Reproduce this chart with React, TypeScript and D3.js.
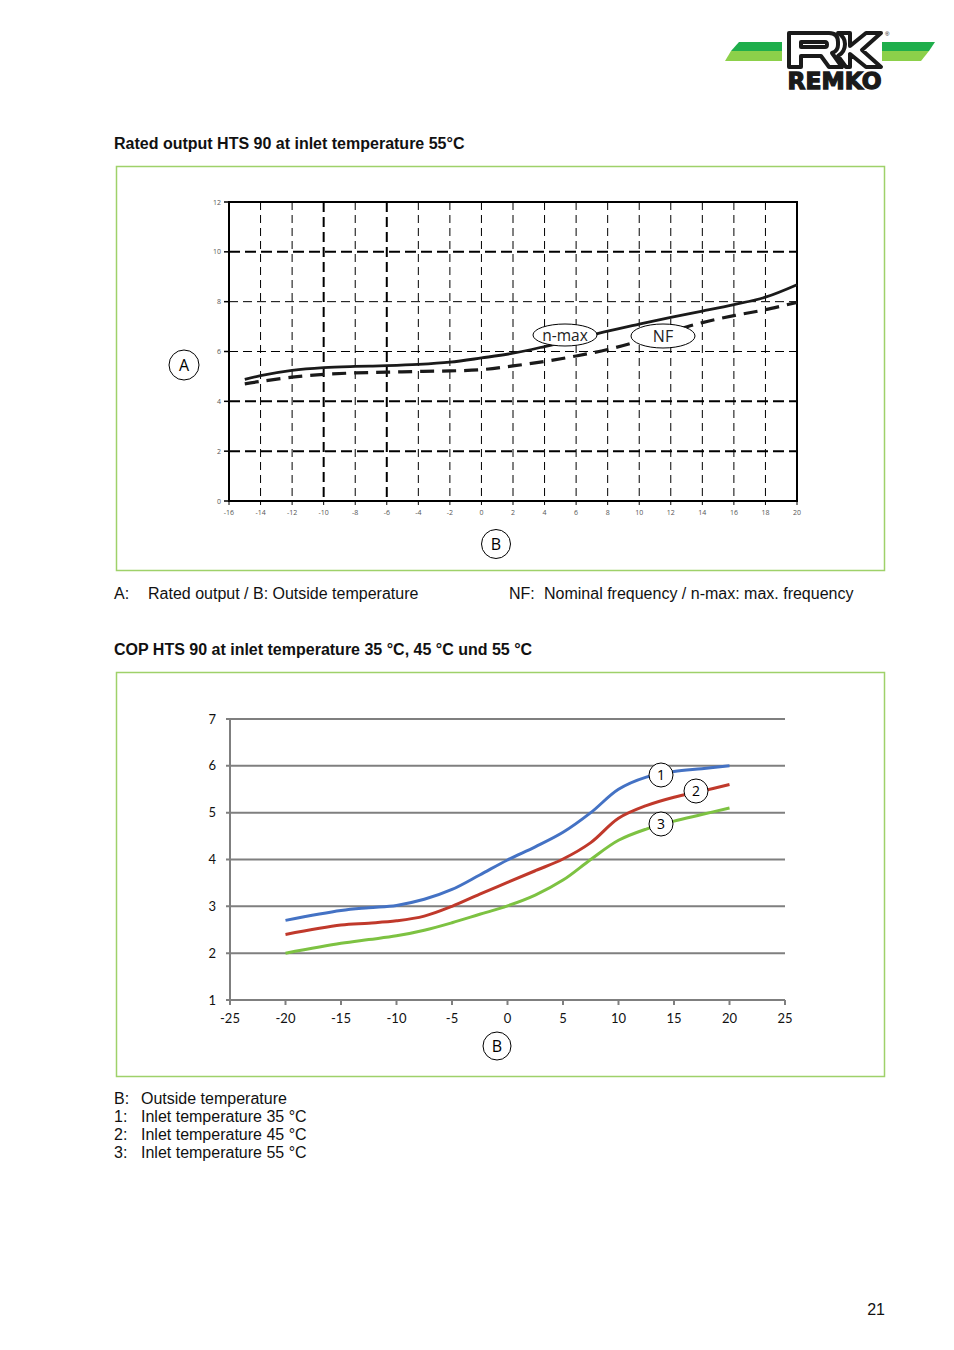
import React from "react";
import * as d3 from "d3";

// ---- Chart 1 data: Rated output HTS 90 at inlet 55°C ----
const c1X = [-15, -14, -12, -10, -8, -6, -4, -2, 0, 2, 4, 6, 8, 10, 12, 14, 16, 18, 20];
const c1Nmax = [4.88, 5.03, 5.24, 5.35, 5.4, 5.43, 5.48, 5.57, 5.74, 5.93, 6.2, 6.5, 6.82, 7.1, 7.37, 7.62, 7.88, 8.18, 8.68];
const c1NF = [4.7, 4.8, 4.97, 5.08, 5.14, 5.17, 5.2, 5.22, 5.27, 5.42, 5.6, 5.82, 6.08, 6.42, 6.8, 7.16, 7.44, 7.68, 7.97];
const c1XTicks = [-16, -14, -12, -10, -8, -6, -4, -2, 0, 2, 4, 6, 8, 10, 12, 14, 16, 18, 20];
const c1YTicks = [0, 2, 4, 6, 8, 10, 12];

// ---- Chart 2 data: COP HTS 90 ----
const c2X = [-20, -15, -12.5, -10, -7.5, -5, -2.5, 0, 2.5, 5, 7.5, 10, 12.5, 15, 17.5, 20];
const c2T35 = [2.7, 2.91, 2.97, 3.02, 3.15, 3.36, 3.67, 3.99, 4.27, 4.58, 5.0, 5.5, 5.76, 5.88, 5.94, 6.0];
const c2T45 = [2.4, 2.6, 2.64, 2.69, 2.79, 3.0, 3.26, 3.51, 3.76, 4.01, 4.36, 4.88, 5.15, 5.33, 5.46, 5.6];
const c2T55 = [2.0, 2.21, 2.29, 2.37, 2.49, 2.65, 2.83, 3.01, 3.24, 3.56, 4.0, 4.41, 4.65, 4.82, 4.96, 5.1];
const c2XTicks = [-25, -20, -15, -10, -5, 0, 5, 10, 15, 20, 25];
const c2YTicks = [1, 2, 3, 4, 5, 6, 7];

const SANS = "'Liberation Sans', Arial, sans-serif";
const GREEN = "#9fd16a";

function Chart1() {
  const x = d3.scaleLinear().domain([-16, 20]).range([229, 797]);
  const y = d3.scaleLinear().domain([0, 12]).range([501, 202]);
  const line = d3
    .line<number>()
    .x((_, i) => x(c1X[i]))
    .y((d) => y(d))
    .curve(d3.curveCatmullRom.alpha(0.5));
  const thickV = [-10, -6];
  const thickH = [2, 4, 10];
  return (
    <g>
      {c1XTicks.slice(1, -1).map((t) => (
        <line
          key={"v" + t}
          x1={x(t)}
          x2={x(t)}
          y1={y(12)}
          y2={y(0)}
          stroke="#000"
          strokeWidth={thickV.includes(t) ? 2 : 1}
          strokeDasharray={thickV.includes(t) ? "10 5" : "8 5"}
        />
      ))}
      {c1YTicks.slice(1, -1).map((t) => (
        <line
          key={"h" + t}
          x1={x(-16)}
          x2={x(20)}
          y1={y(t)}
          y2={y(t)}
          stroke="#000"
          strokeWidth={thickH.includes(t) ? 2 : 1}
          strokeDasharray={thickH.includes(t) ? "11 5" : "9 5"}
        />
      ))}
      <rect x={x(-16)} y={y(12)} width={x(20) - x(-16)} height={y(0) - y(12)} fill="none" stroke="#000" strokeWidth={2} />
      {c1YTicks.map((t) => (
        <g key={"yt" + t}>
          <line x1={x(-16) - 5} x2={x(-16)} y1={y(t)} y2={y(t)} stroke="#000" strokeWidth={1.5} />
          <text x={x(-16) - 8} y={y(t) + 2.5} fontSize={7} fill="#555" textAnchor="end" fontFamily="'Open Sans', sans-serif">
            {t}
          </text>
        </g>
      ))}
      {c1XTicks.map((t) => (
        <g key={"xt" + t}>
          <line x1={x(t)} x2={x(t)} y1={y(0)} y2={y(0) + 4} stroke="#000" strokeWidth={1} />
          <text x={x(t)} y={y(0) + 14} fontSize={7} fill="#555" textAnchor="middle" fontFamily="'Open Sans', sans-serif">
            {t}
          </text>
        </g>
      ))}
      <path d={line(c1NF) || ""} fill="none" stroke="#1a1a1a" strokeWidth={3.2} strokeDasharray="14 8" />
      <path d={line(c1Nmax) || ""} fill="none" stroke="#1a1a1a" strokeWidth={2.8} />
      <ellipse cx={565} cy={335} rx={32} ry={11} fill="#fff" stroke="#000" strokeWidth={1} />
      <text x={565} y={340.5} fontSize={15.5} textAnchor="middle" fontFamily="'Open Sans', sans-serif" fill="#222">
        n-max
      </text>
      <ellipse cx={663} cy={336} rx={32} ry={12} fill="#fff" stroke="#000" strokeWidth={1} />
      <text x={663} y={342} fontSize={16} textAnchor="middle" fontFamily="'Open Sans', sans-serif" fill="#222">
        NF
      </text>
      <circle cx={184} cy={365} r={15} fill="#fff" stroke="#000" strokeWidth={1} />
      <text x={184} y={371} fontSize={16} textAnchor="middle" fontFamily="'Open Sans', sans-serif">
        A
      </text>
      <circle cx={496} cy={544} r={14.5} fill="#fff" stroke="#000" strokeWidth={1} />
      <text x={496} y={550} fontSize={16} textAnchor="middle" fontFamily="'Open Sans', sans-serif">
        B
      </text>
    </g>
  );
}

function Chart2() {
  const x = d3.scaleLinear().domain([-25, 25]).range([230, 785]);
  const y = d3.scaleLinear().domain([1, 7]).range([1000, 719]);
  const line = d3
    .line<number>()
    .x((_, i) => x(c2X[i]))
    .y((d) => y(d))
    .curve(d3.curveCatmullRom.alpha(0.5));
  const series = [
    { d: c2T35, c: "#4472c4", label: "1", lx: 661, ly: 775 },
    { d: c2T45, c: "#c0392b", label: "2", lx: 696, ly: 791 },
    { d: c2T55, c: "#7dc242", label: "3", lx: 661, ly: 824 },
  ];
  const grey = "#7f7f7f";
  return (
    <g fontFamily="Lato, 'Open Sans', sans-serif">
      {c2YTicks.slice(1).map((t) => (
        <line key={"g" + t} x1={x(-25) - 4} x2={x(25)} y1={y(t)} y2={y(t)} stroke={grey} strokeWidth={2} />
      ))}
      <line x1={x(-25)} x2={x(-25)} y1={y(7)} y2={y(1)} stroke={grey} strokeWidth={2} />
      <line x1={x(-25) - 4} x2={x(25)} y1={y(1)} y2={y(1)} stroke={grey} strokeWidth={2} />
      {c2XTicks.map((t) => (
        <g key={"xt" + t}>
          <line x1={x(t)} x2={x(t)} y1={y(1)} y2={y(1) + 5} stroke={grey} strokeWidth={2} />
          <text x={x(t)} y={y(1) + 23} fontSize={13} textAnchor="middle" fill="#111">
            {t}
          </text>
        </g>
      ))}
      {c2YTicks.map((t) => (
        <text key={"yt" + t} x={x(-25) - 14} y={y(t) + 4.5} fontSize={13} textAnchor="end" fill="#111">
          {t}
        </text>
      ))}
      {series.map((s) => (
        <path key={s.label} d={line(s.d) || ""} fill="none" stroke={s.c} strokeWidth={3} />
      ))}
      {series.map((s) => (
        <g key={"l" + s.label}>
          <circle cx={s.lx} cy={s.ly} r={12} fill="#fff" stroke="#000" strokeWidth={1} />
          <text x={s.lx} y={s.ly + 5} fontSize={14} textAnchor="middle" fontFamily="'Open Sans', sans-serif">
            {s.label}
          </text>
        </g>
      ))}
      <circle cx={497} cy={1046} r={14} fill="#fff" stroke="#000" strokeWidth={1} />
      <text x={497} y={1052} fontSize={16} textAnchor="middle" fontFamily="'Open Sans', sans-serif">
        B
      </text>
    </g>
  );
}

function Logo() {
  return (
    <g>
      <polygon points="739,42 782,42 782,51 731,51" fill="#1fae4b" />
      <polygon points="731,51 782,51 782,61 725,61" fill="#8cd04a" />
      <polygon points="882,42 935,42 929,51 882,51" fill="#1fae4b" />
      <polygon points="882,51 929,51 921,61 882,61" fill="#8cd04a" />
      <path
        d="M789,33 L829,33 Q838,33 838,42 L838,45 Q838,51 832,53 L842,67 L829,67 L821,56 L801,56 L801,67 L789,67 Z M801,42 L801,47 L825,47 Q827,47 827,44.5 Q827,42 825,42 Z"
        fill="#fff"
        stroke="#1a1a1a"
        strokeWidth={4}
        strokeLinejoin="round"
        fillRule="evenodd"
      />
      <path
        d="M838,33 L850,33 L850,46 L866,33 L881,33 L862,50 L881,67 L866,67 L850,54 L850,67 L846,67 L838,56 Q845,52 845,44 Q845,37 838,33 Z"
        fill="#fff"
        stroke="#1a1a1a"
        strokeWidth={4}
        strokeLinejoin="round"
      />
      <text x={885} y={36} fontSize={6} fontFamily={SANS}>®</text>
      <text
        x={834.5}
        y={89}
        fontSize={23}
        fontWeight={900}
        textAnchor="middle"
        fontFamily="'DejaVu Sans', sans-serif"
        textLength={94}
        lengthAdjust="spacingAndGlyphs"
        fill="#1a1a1a"
        stroke="#1a1a1a"
        strokeWidth={1.3}
      >
        REMKO
      </text>
    </g>
  );
}

export default function App() {
  const fs = 16;
  return (
    <svg
      width={954}
      height={1350}
      viewBox="0 0 954 1350"
      style={{ position: "absolute", left: 0, top: 0, background: "#fff" }}
      fontFamily={SANS}
    >
      <rect x={0} y={0} width={954} height={1350} fill="#fff" />
      <Logo />
      <text x={114} y={149} fontSize={fs} fontWeight="bold" fill="#111">
        Rated output HTS 90 at inlet temperature 55°C
      </text>
      <rect x={116.5} y={166.5} width={768} height={404} fill="none" stroke={GREEN} strokeWidth={1.5} />
      <Chart1 />
      <text x={114} y={599} fontSize={fs} fill="#111">A:</text>
      <text x={148} y={599} fontSize={fs} fill="#111">Rated output / B: Outside temperature</text>
      <text x={509} y={599} fontSize={fs} fill="#111">NF:</text>
      <text x={544} y={599} fontSize={fs} fill="#111">Nominal frequency / n-max: max. frequency</text>

      <text x={114} y={655} fontSize={fs} fontWeight="bold" fill="#111">
        COP HTS 90 at inlet temperature 35 °C, 45 °C und 55 °C
      </text>
      <rect x={116.5} y={672.5} width={768} height={404} fill="none" stroke={GREEN} strokeWidth={1.5} />
      <Chart2 />

      {[
        ["B:", "Outside temperature"],
        ["1:", "Inlet temperature 35 °C"],
        ["2:", "Inlet temperature 45 °C"],
        ["3:", "Inlet temperature 55 °C"],
      ].map((r, i) => (
        <g key={i}>
          <text x={114} y={1104 + i * 18} fontSize={fs} fill="#111">{r[0]}</text>
          <text x={141} y={1104 + i * 18} fontSize={fs} fill="#111">{r[1]}</text>
        </g>
      ))}
      <text x={885} y={1315} fontSize={fs} textAnchor="end" fill="#111">21</text>
    </svg>
  );
}
